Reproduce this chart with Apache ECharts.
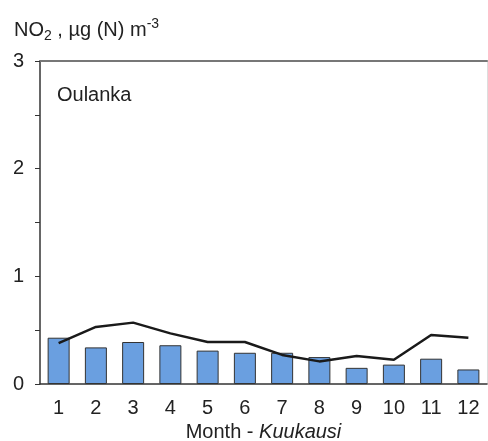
<!DOCTYPE html>
<html><head><meta charset="utf-8">
<script src="https://cdn.jsdelivr.net/npm/echarts@6/dist/echarts.min.js"></script>
<style>html,body{margin:0;padding:0;background:#fff}#c{width:488px;height:441px}</style>
</head><body><div id="c"></div>
<script>
const months = ['1','2','3','4','5','6','7','8','9','10','11','12'];
const barValues = [0.43, 0.34, 0.39, 0.36, 0.31, 0.29, 0.29, 0.25, 0.15, 0.18, 0.235, 0.135];
const lineValues = [0.38, 0.53, 0.57, 0.47, 0.39, 0.39, 0.27, 0.21, 0.26, 0.225, 0.455, 0.43];
const yTicks = [0, 1, 2, 3];
const font = 'Liberation Sans, Arial, sans-serif';

const chart = echarts.init(document.getElementById('c'));
chart.setOption({
  animation: false,
  grid: {left: 40, right: 1, top: 61, bottom: 57, outerBoundsMode: 'none', containLabel: false},
  title: {
    text: '{a|NO}{s|2}{a| , µg (N) m}{p|-3}',
    left: 9, top: 12,
    textStyle: {
      rich: {
        a: {fontFamily: font, fontSize: 20, fontWeight: 'normal', color: '#222'},
        s: {fontFamily: font, fontSize: 14, fontWeight: 'normal', color: '#222', verticalAlign: 'bottom', padding: [12, 0, 0, 0]},
        p: {fontFamily: font, fontSize: 14, fontWeight: 'normal', color: '#222', verticalAlign: 'top', padding: [0, 0, 12, 0]}
      }
    }
  },
  graphic: [{
    type: 'text', left: 57, top: 85,
    style: {text: 'Oulanka', font: '20px ' + font, fill: '#222'}
  }],
  xAxis: [{
    type: 'category', data: months,
    axisLine: {lineStyle: {color: '#333', width: 1.5}},
    axisTick: {show: false},
    axisLabel: {fontFamily: font, fontSize: 20, color: '#222', margin: 14},
    name: '{n|Month - }{i|Kuukausi}',
    nameLocation: 'middle', nameGap: 36,
    nameTextStyle: {
      rich: {
        n: {fontFamily: font, fontSize: 20, color: '#222'},
        i: {fontFamily: font, fontSize: 20, color: '#222', fontStyle: 'italic'}
      }
    }
  }, {
    type: 'category', data: months, position: 'top',
    axisLine: {show: true, onZero: false, lineStyle: {color: '#777', width: 2}},
    axisTick: {show: false}, axisLabel: {show: false}
  }],
  yAxis: [{
    type: 'value', min: 0, max: 3, interval: 0.5,
    axisLine: {show: true, lineStyle: {color: '#333', width: 1.5}},
    axisTick: {show: true, inside: false, length: 5, lineStyle: {color: '#333'}},
    splitLine: {show: false},
    axisLabel: {
      fontFamily: font, fontSize: 20, color: '#222', margin: 16,
      formatter: v => yTicks.includes(v) ? String(v) : ''
    }
  }, {
    type: 'value', min: 0, max: 3, interval: 0.5, position: 'right',
    axisLine: {show: true, onZero: false, lineStyle: {color: '#ddd', width: 1}},
    axisTick: {show: false}, axisLabel: {show: false}, splitLine: {show: false}
  }],
  series: [{
    type: 'bar', data: barValues, barWidth: 22,
    itemStyle: {color: '#6a9fe0', borderColor: '#333', borderWidth: 1}
  }, {
    type: 'line', data: lineValues, symbol: 'none',
    lineStyle: {color: '#1a1a1a', width: 2.5}
  }]
});
</script></body></html>
